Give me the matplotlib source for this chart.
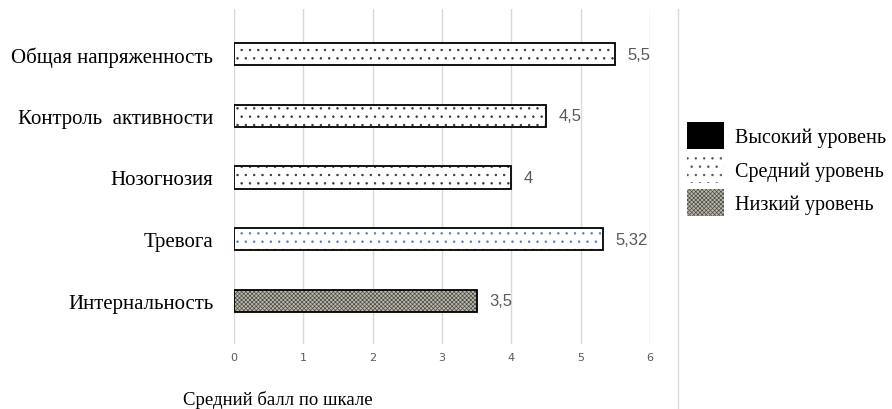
import matplotlib.pyplot as plt
from matplotlib.patches import Patch
from matplotlib.lines import Line2D

plt.rcParams['hatch.linewidth'] = 0.5

# data
categories = ['Интернальность', 'Тревога', 'Нозогнозия', 'Контроль  активности', 'Общая напряженность']
values = [3.5, 5.32, 4, 4.5, 5.5]
value_labels = ['3,5', '5,32', '4', '4,5', '5,5']
levels = ['low', 'mid', 'mid', 'mid', 'mid']
level_names = ['Высокий уровень', 'Средний уровень', 'Низкий уровень']

serif = 'Liberation Serif'
grey = '#595959'
low_face = '#bdb9aa'

fig = plt.figure(figsize=(8.92, 4.10), dpi=100)
ax = fig.add_axes([234 / 892, 1 - 345 / 410, 416 / 892, 335 / 410])

for i, (v, lev) in enumerate(zip(values, levels)):
    if lev == 'low':
        ax.barh(i, v, height=0.36, facecolor=low_face, edgecolor='#4a4a4a', hatch='xxxxxxxx', lw=0, zorder=3)
    else:
        hc = '#4a7fc1' if categories[i] == 'Тревога' else '#333333'
        ax.barh(i, v, height=0.36, facecolor='white', edgecolor=hc, hatch='..', lw=0, zorder=3)
    # outline on top of the hatch
    ax.barh(i, v, height=0.36, facecolor='none', edgecolor='black', lw=1.3, zorder=4)
    ax.text(v + 0.18, i, value_labels[i], va='center', ha='left', fontsize=12, color=grey,
            family='Liberation Sans')

ax.set_xlim(0, 6)
ax.set_ylim(-0.70, 4.73)
ax.set_xticks(range(7))
ax.set_yticks(range(len(categories)))
ax.set_yticklabels(categories, family=serif, fontsize=15)
ax.tick_params(axis='y', length=0, pad=15)
ax.tick_params(axis='x', length=0, labelsize=8, labelcolor=grey, pad=6)
ax.grid(axis='x', color='#d9d9d9', lw=1)
ax.set_axisbelow(True)
for s in ax.spines.values():
    s.set_visible(False)

fig.text(183 / 892, 1 - 400 / 410, 'Средний балл по шкале', family=serif, fontsize=13.5,
         ha='left', va='center')

# separator line
fig.add_artist(Line2D([678 / 892, 678 / 892], [0, 1 - 10 / 410], transform=fig.transFigure,
                      color='#d9d9d9', lw=1))

handles = [Patch(facecolor='black', edgecolor='black', lw=0),
           Patch(facecolor='white', edgecolor='#555555', hatch='..', lw=0),
           Patch(facecolor=low_face, edgecolor='#4a4a4a', hatch='xxxxxxxx', lw=0)]
fig.legend(handles, level_names, loc='center left', bbox_to_anchor=(687 / 892, 1 - 170 / 410),
           frameon=False, prop={'family': serif, 'size': 14.5}, handlelength=1.84,
           handleheight=1.7, labelspacing=0.32, handletextpad=0.55,
           borderpad=0, borderaxespad=0)

fig.savefig('out.png', dpi=100)
